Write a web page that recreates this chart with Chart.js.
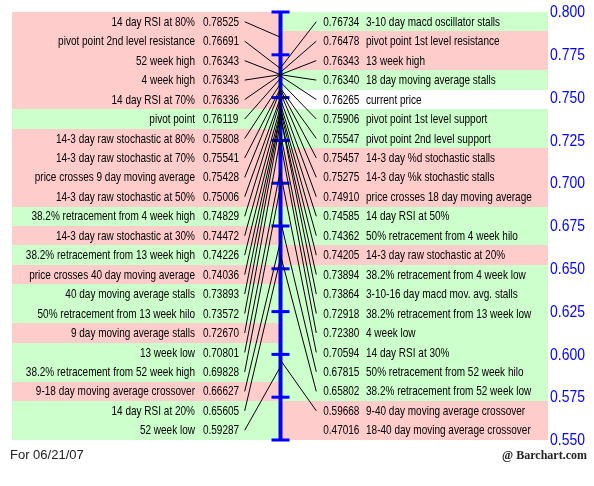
<!DOCTYPE html>
<html>
<head>
<meta charset="utf-8">
<script src="https://cdn.jsdelivr.net/npm/chart.js@4.4.1/dist/chart.umd.min.js"></script>
<style>
  html, body { margin: 0; padding: 0; background: #fff; }
  #wrap { width: 594px; height: 486px; }
</style>
</head>
<body>
<div id="wrap"><canvas id="pivotChart" width="594" height="486"></canvas></div>
<script>
// values, rows top to bottom
const LEFT_LABELS = [
  '14 day RSI at 80%', 'pivot point 2nd level resistance', '52 week high', '4 week high',
  '14 day RSI at 70%', 'pivot point', '14-3 day raw stochastic at 80%', '14-3 day raw stochastic at 70%',
  'price crosses 9 day moving average', '14-3 day raw stochastic at 50%', '38.2% retracement from 4 week high',
  '14-3 day raw stochastic at 30%', '38.2% retracement from 13 week high', 'price crosses 40 day moving average',
  '40 day moving average stalls', '50% retracement from 13 week hilo', '9 day moving average stalls',
  '13 week low', '38.2% retracement from 52 week high', '9-18 day moving average crossover',
  '14 day RSI at 20%', '52 week low'
];
const LEFT_VALUES = [
  0.78525, 0.76691, 0.76343, 0.76343, 0.76336, 0.76119, 0.75808, 0.75541, 0.75428, 0.75006, 0.74829,
  0.74472, 0.74226, 0.74036, 0.73893, 0.73572, 0.72670, 0.70801, 0.69828, 0.66627, 0.65605, 0.59287
];
const LEFT_KIND = ['r','r','r','r','r','g','r','r','r','r','g','r','g','r','g','g','r','g','g','r','g','g'];

const RIGHT_LABELS = [
  '3-10 day macd oscillator stalls', 'pivot point 1st level resistance', '13 week high',
  '18 day moving average stalls', 'current price', 'pivot point 1st level support',
  'pivot point 2nd level support', '14-3 day %d stochastic stalls', '14-3 day %k stochastic stalls',
  'price crosses 18 day moving average', '14 day RSI at 50%', '50% retracement from 4 week hilo',
  '14-3 day raw stochastic at 20%', '38.2% retracement from 4 week low', '3-10-16 day macd mov. avg. stalls',
  '38.2% retracement from 13 week low', '4 week low', '14 day RSI at 30%',
  '50% retracement from 52 week hilo', '38.2% retracement from 52 week low',
  '9-40 day moving average crossover', '18-40 day moving average crossover'
];
const RIGHT_VALUES = [
  0.76734, 0.76478, 0.76343, 0.76340, 0.76265, 0.75906, 0.75547, 0.75457, 0.75275, 0.74910, 0.74585,
  0.74362, 0.74205, 0.73894, 0.73864, 0.72918, 0.72380, 0.70594, 0.67815, 0.65802, 0.59668, 0.47016
];
const RIGHT_KIND = ['g','r','r','g','w','g','g','r','r','r','g','g','r','g','g','g','g','g','g','g','r','r'];

const AXIS_TICKS = [0.800, 0.775, 0.750, 0.725, 0.700, 0.675, 0.650, 0.625, 0.600, 0.575, 0.550];
const DATE_LABEL = 'For 06/21/07';
const SOURCE_LABEL = '@ Barchart.com';

// layout, x in plot units (pixels across the panel)
const Y_MIN = 0.55, Y_MAX = 0.80;
const X_MIN = 9, X_MAX = 548, AXIS_X = 279, LEFT_END = 243, RIGHT_END = 315;
const LEFT_TEXT_END = 193, LEFT_VALUE_X = 201, RIGHT_VALUE_X = 322, RIGHT_TEXT_X = 365;
const ROWS = LEFT_LABELS.length;
const FONT = '"Liberation Sans", Arial, sans-serif';
const NARROW = 0.77; // no narrow face installed, squeeze the regular one
const BAND_COLORS = { r: '#ffcccc', g: '#ccffcc', w: '#ffffff' };
const BLUE = '#0000ff';

// row i sits evenly spaced along the value axis
function rowValue(i) {
  return Y_MAX - (i + 0.5) * (Y_MAX - Y_MIN) / ROWS;
}

function connectors(values, fromX) {
  const pts = [];
  values.forEach((v, i) => {
    if (v < Y_MIN || v > Y_MAX) return; // off scale -> no line
    pts.push({ x: fromX, y: rowValue(i) }, { x: AXIS_X, y: v }, { x: AXIS_X, y: null });
  });
  return pts;
}

function narrowText(ctx, text, x, y, align, sx) {
  ctx.save();
  ctx.translate(x, y);
  ctx.scale(sx, 1);
  ctx.textAlign = align;
  ctx.fillText(text, 0, 0);
  ctx.restore();
}

const rowsPlugin = {
  id: 'pivotRows',
  beforeDatasetsDraw(chart) {
    const { ctx, scales: { x, y } } = chart;
    const top = y.getPixelForValue(Y_MAX);
    const h = (y.getPixelForValue(Y_MIN) - top) / ROWS;
    const xl = x.getPixelForValue(X_MIN), xa = x.getPixelForValue(AXIS_X), xr = x.getPixelForValue(X_MAX);
    ctx.save();
    for (let i = 0; i < ROWS; i++) {
      const y0 = Math.round(top + i * h), y1 = Math.round(top + (i + 1) * h);
      ctx.fillStyle = BAND_COLORS[LEFT_KIND[i]];
      ctx.fillRect(xl, y0, xa - xl, y1 - y0);
      ctx.fillStyle = BAND_COLORS[RIGHT_KIND[i]];
      ctx.fillRect(xa, y0, xr - xa, y1 - y0);
    }
    ctx.font = '13px ' + FONT;
    ctx.fillStyle = '#000';
    ctx.textBaseline = 'middle';
    for (let i = 0; i < ROWS; i++) {
      const cy = y.getPixelForValue(rowValue(i)) + 0.5;
      narrowText(ctx, LEFT_LABELS[i], x.getPixelForValue(LEFT_TEXT_END), cy, 'right', NARROW);
      narrowText(ctx, LEFT_VALUES[i].toFixed(5), x.getPixelForValue(LEFT_VALUE_X), cy, 'left', NARROW);
      narrowText(ctx, RIGHT_VALUES[i].toFixed(5), x.getPixelForValue(RIGHT_VALUE_X), cy, 'left', NARROW);
      narrowText(ctx, RIGHT_LABELS[i], x.getPixelForValue(RIGHT_TEXT_X), cy, 'left', NARROW);
    }
    ctx.restore();
  },
  afterDraw(chart) {
    const { ctx, chartArea, scales: { y } } = chart;
    ctx.save();
    ctx.textBaseline = 'middle';
    // value axis labels, squeezed like the rest
    ctx.fillStyle = BLUE;
    ctx.font = '17px ' + FONT;
    y.ticks.forEach(t => {
      narrowText(ctx, t.value.toFixed(3), chartArea.right + 2, y.getPixelForValue(t.value) + 0.5, 'left', 0.82);
    });
    ctx.fillStyle = '#222';
    ctx.font = '13px ' + FONT;
    ctx.textAlign = 'left';
    ctx.fillText(DATE_LABEL, 10, 455);
    ctx.font = 'bold 12px "Liberation Serif", "Times New Roman", serif';
    ctx.textAlign = 'right';
    ctx.fillText(SOURCE_LABEL, 587, 456);
    ctx.restore();
  }
};

const chartContext = document.getElementById('pivotChart').getContext('2d');
new Chart(chartContext, {
  type: 'line',
  data: {
    datasets: [
      {
        data: connectors(LEFT_VALUES, LEFT_END),
        borderColor: '#000', borderWidth: 1, pointRadius: 0, spanGaps: false, order: 1
      },
      {
        data: connectors(RIGHT_VALUES, RIGHT_END),
        borderColor: '#000', borderWidth: 1, pointRadius: 0, spanGaps: false, order: 1
      },
      {
        data: [{ x: AXIS_X, y: Y_MIN }, { x: AXIS_X, y: Y_MAX }],
        borderColor: BLUE, borderWidth: 4, pointRadius: 0, order: 2, clip: false
      },
      {
        data: AXIS_TICKS.map(v => ({ x: AXIS_X, y: v })),
        showLine: false, pointStyle: 'line', pointRadius: 9, pointBorderWidth: 3,
        pointBorderColor: BLUE, borderColor: BLUE, order: 2, clip: false
      }
    ]
  },
  options: {
    responsive: false,
    animation: false,
    events: [],
    layout: { padding: { left: 9, top: 9, right: 0, bottom: 46 } },
    plugins: { legend: { display: false }, tooltip: { enabled: false } },
    scales: {
      x: { type: 'linear', min: X_MIN, max: X_MAX, display: false },
      y: {
        type: 'linear', position: 'right', min: Y_MIN, max: Y_MAX,
        afterBuildTicks: s => { s.ticks = AXIS_TICKS.map(v => ({ value: v })); },
        afterFit: s => { s.width = 594 - X_MAX; },
        ticks: { display: false },
        grid: { display: false, drawTicks: false },
        border: { display: false }
      }
    }
  },
  plugins: [rowsPlugin]
});
</script>
</body>
</html>
